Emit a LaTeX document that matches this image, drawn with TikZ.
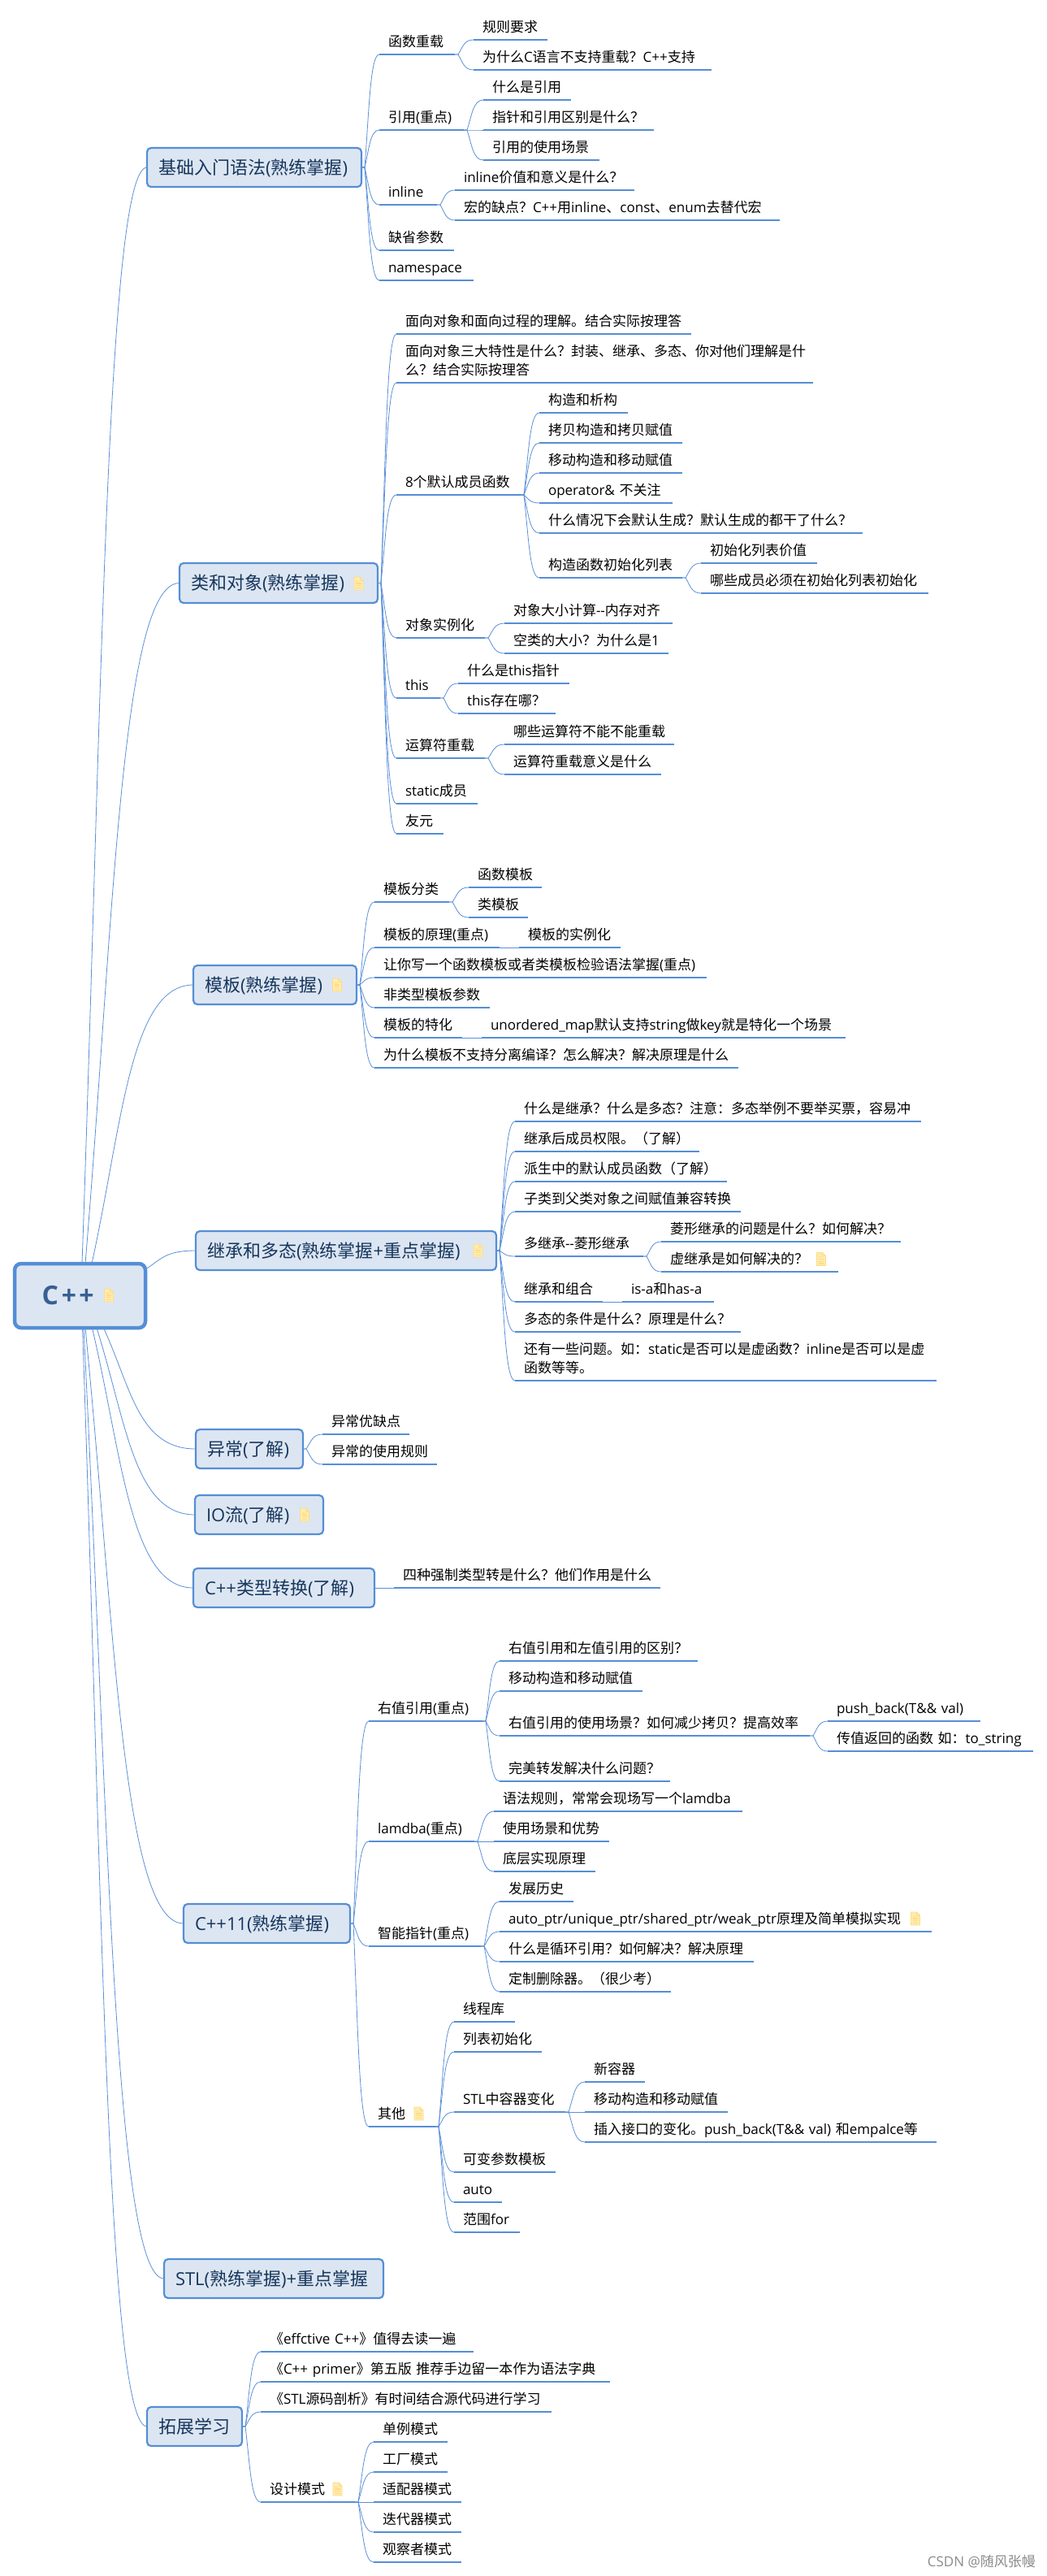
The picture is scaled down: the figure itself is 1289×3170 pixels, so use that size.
\documentclass[tikz,border=0pt]{standalone}
\usepackage{fontspec}
\usetikzlibrary{calc}
\setmainfont{Open Sans}
\newfontfamily\cjkfam{Noto Sans CJK SC}
% automatic switch between Latin and CJK fonts
\XeTeXinterchartokenstate=1
\newXeTeXintercharclass\cjkclass
\count255="3000 \loop\ifnum\count255<"3040 \XeTeXcharclass\count255=\cjkclass \advance\count255 by 1 \repeat
\count255="4E00 \loop\ifnum\count255<"A000 \XeTeXcharclass\count255=\cjkclass \advance\count255 by 1 \repeat
\count255="FF00 \loop\ifnum\count255<"FFF0 \XeTeXcharclass\count255=\cjkclass \advance\count255 by 1 \repeat
\XeTeXinterchartoks 0 \cjkclass={\cjkfam}
\XeTeXinterchartoks 4095 \cjkclass={\cjkfam}
\XeTeXinterchartoks \cjkclass 0={\rmfamily}
\XeTeXinterchartoks \cjkclass 4095={\rmfamily}
% full-width punctuation
\newcommand\fq{^^^^ff1f}
\newcommand\fc{^^^^ff1a}
\newcommand\fk{^^^^ff0c}
\newcommand\fl{^^^^ff08}
\newcommand\fr{^^^^ff09}
\definecolor{linec}{HTML}{558ED5}
\definecolor{thinc}{HTML}{5B90D9}
\definecolor{boxf}{HTML}{DCE6F2}
\definecolor{boxt}{HTML}{17365D}
\definecolor{roott}{HTML}{376092}
\definecolor{notef}{HTML}{FFEBB0}
\definecolor{noted}{HTML}{FFDC85}
\tikzset{
  leafs/.style={anchor=south west,inner xsep=0pt,inner ysep=5.5pt,outer sep=0pt,align=left,text=black,font=\fontsize{17}{23}\selectfont},
  uline/.style={draw=linec,line width=2.6pt},
  thinl/.style={draw=thinc,line width=0.8pt},
  bxs/.style={anchor=north west,inner xsep=14pt,inner ysep=0pt,outer sep=0pt,rounded corners=5pt,draw=linec,fill=boxf,line width=2.2pt,align=left,text=boxt,font=\fontsize{22}{26}\selectfont},
  rootbx/.style={anchor=north west,inner xsep=33.5pt,inner ysep=0pt,outer sep=0pt,rounded corners=8pt,draw=linec,fill=boxf,line width=4.5pt,align=left,text=roott,font=\fontsize{32}{36}\selectfont\bfseries},
}
\newcommand\stt{\rule[-4pt]{0pt}{14pt}}
\newcommand\lnn[1]{\mbox{\hspace*{11pt}\stt #1}}
\newcommand\leaf[5]{\node[leafs,text width={(#3-#2)*1pt}] (#1) at (#2,#4) {\lnn{#5}};\draw[uline] (#1.south west)--(#1.south east);}
\newcommand\leaftwo[6]{\node[leafs,text width={(#3-#2)*1pt}] (#1) at (#2,#4) {\lnn{#5}\\\lnn{#6}};\draw[uline] (#1.south west)--(#1.south east);}
\newcommand\bxn[6]{\node[bxs,minimum width={(#3-#2)*1pt},minimum height={(#5-#4)*1pt},text width={(#3-#2-28)*1pt}] (#1) at (#2,#4) {\rule[-3.6pt]{0pt}{24pt}#6};}
\newcommand\conn[2]{\draw[thinl] let \p1=(#1),\p2=(#2),\n1={\x2-\x1-4pt},\n2={\y2-\y1} in (\p1) -- (\x1+4pt,\y1) .. controls (\x1+4pt+.3*\n1,\y1+.5*\n2) and (\x1+4pt+.38*\n1,\y2) .. (\p2);}
\newcommand\connr[2]{\draw[thinl] let \p1=(#1),\p2=(#2),\n1={\x2-\x1},\n2={\y2-\y1} in (\p1) .. controls (\x1+.3*\n1,\y1+.5*\n2) and (\x1+.38*\n1,\y2) .. (\p2);}
\newcommand\kids[2]{\foreach \k in {#2}{\conn{#1.south east}{\k.south west}}}
\newcommand\bkids[2]{\foreach \k in {#2}{\conn{#1.east}{\k.south west}}}
\newcommand\noteicon[2]{\begin{scope}[shift={(#1,#2)}]
  \draw[fill=notef,draw=noted,line width=0.9pt] (-5.5,8)--(-5.5,-8)--(1.5,-8)--(5.5,-4)--(5.5,8)--cycle;
  \draw[draw=noted,line width=0.9pt] (1.5,-8)--(1.5,-4)--(5.5,-4);
  \draw[draw=noted,line width=1.2pt] (-3.2,0)--(3.2,0) (-3.2,2.8)--(3.2,2.8) (-3.2,5.4)--(3.2,5.4) (-3.2,-2.8)--(-0.5,-2.8);
\end{scope}}
\begin{document}
\begin{tikzpicture}[x=1pt,y=-1pt]
\fill[white] (0,0) rectangle (1289,3170);
\useasboundingbox (0,0) rectangle (1289,3170);
% root
\node[rootbx,minimum width=161pt,minimum height=79pt,text width=94pt] (root) at (18,1555) {C\hspace{4pt}+\hspace{3.2pt}+};
\noteicon{134}{1594}
\coordinate (rt1) at (101,1555);
\coordinate (rt2) at (105,1555);
\coordinate (rt3) at (113,1555);
\coordinate (rt4) at (179,1562);
\coordinate (rb1) at (127.5,1634);
\coordinate (rb2) at (119,1634);
\coordinate (rb3) at (113.5,1634);
\coordinate (rb4) at (105,1634);
\coordinate (rb5) at (103,1634);
\coordinate (rb6) at (101.5,1634);
% main boxes
\bxn{b1}{181}{445}{182}{230}{基础入门语法(熟练掌握)}
\bxn{b2}{221}{465}{693}{742}{类和对象(熟练掌握)}
\noteicon{441.5}{718}
\bxn{b3}{238}{439}{1188}{1236}{模板(熟练掌握)}
\noteicon{415}{1212}
\bxn{b4}{241}{611}{1515}{1563}{继承和多态(熟练掌握+重点掌握)}
\noteicon{588.5}{1539}
\bxn{b5}{241}{373}{1759}{1807}{异常(了解)}
\bxn{b6}{240}{398}{1840}{1888}{IO流(了解)}
\noteicon{375}{1864}
\bxn{b7}{238}{461}{1930}{1978}{C++类型转换(了解)}
\bxn{b8}{226}{431}{2343}{2391}{C++11(熟练掌握)}
\bxn{b9}{202}{472}{2780}{2828}{STL(熟练掌握)+重点掌握}
\bxn{b10}{181}{298}{2962}{3010}{拓展学习}
\connr{rt1}{b1.west}
\connr{rt2}{b2.west}
\connr{rt3}{b3.west}
\connr{rt4}{b4.west}
\connr{rb1}{b5.west}
\connr{rb2}{b6.west}
\connr{rb3}{b7.west}
\connr{rb4}{b8.west}
\connr{rb5}{b9.west}
\connr{rb6}{b10.west}
% branch 1
\leaf{a1}{467}{560}{67}{函数重载}
\leaf{a1a}{583}{674}{49}{规则要求}
\leaf{a1b}{583}{876}{86}{为什么C语言不支持重载\fq C++支持}
\leaf{a2}{467}{571}{160}{引用(重点)}
\leaf{a2a}{595}{703}{123}{什么是引用}
\leaf{a2b}{595}{805}{160}{指针和引用区别是什么\fq}
\leaf{a2c}{595}{738}{197}{引用的使用场景}
\leaf{a3}{467}{538}{252}{inline}
\leaf{a3a}{560}{781}{234}{inline价值和意义是什么\fq}
\leaf{a3b}{560}{960}{271}{宏的缺点\fq C++用inline、const、enum去替代宏}
\leaf{a4}{467}{559}{308}{缺省参数}
\leaf{a5}{467}{583}{345}{namespace}
\bkids{b1}{a1,a2,a3,a4,a5}
\kids{a1}{a1a,a1b}
\kids{a2}{a2a,a2b,a2c}
\kids{a3}{a3a,a3b}
% branch 2
\leaf{c1}{488}{851}{411}{面向对象和面向过程的理解。结合实际按理答}
\leaftwo{c2}{488}{1001}{471}{面向对象三大特性是什么\fq 封装、继承、多态、你对他们理解是什}{么\fq 结合实际按理答}
\leaf{c3}{488}{641}{609}{8个默认成员函数}
\leaf{c3a}{664}{773}{508}{构造和析构}
\leaf{c3b}{664}{840}{545}{拷贝构造和拷贝赋值}
\leaf{c3c}{664}{840}{582}{移动构造和移动赋值}
\leaf{c3d}{664}{828}{619}{operator\& 不关注}
\leaf{c3e}{664}{1062}{656}{什么情况下会默认生成\fq 默认生成的都干了什么\fq}
\leaf{c3f}{664}{840}{711}{构造函数初始化列表}
\leaf{c3g}{863}{1006}{693}{初始化列表价值}
\leaf{c3h}{863}{1143}{730}{哪些成员必须在初始化列表初始化}
\leaf{c4}{488}{597}{785}{对象实例化}
\leaf{c4a}{621}{828}{767}{对象大小计算-{}-内存对齐}
\leaf{c4b}{621}{823}{804}{空类的大小\fq 为什么是1}
\leaf{c5}{488}{542}{859}{this}
\leaf{c5a}{564}{701}{841}{什么是this指针}
\leaf{c5b}{564}{684}{878}{this存在哪\fq}
\leaf{c6}{488}{597}{933}{运算符重载}
\leaf{c6a}{621}{830}{916}{哪些运算符不能不能重载}
\leaf{c6b}{621}{814}{953}{运算符重载意义是什么}
\leaf{c7}{488}{588}{989}{static成员}
\leaf{c8}{488}{546}{1026}{友元}
\bkids{b2}{c1,c2,c3,c4,c5,c6,c7,c8}
\kids{c3}{c3a,c3b,c3c,c3d,c3e,c3f}
\kids{c3f}{c3g,c3h}
\kids{c4}{c4a,c4b}
\kids{c5}{c5a,c5b}
\kids{c6}{c6a,c6b}
% branch 3
\leaf{d1}{461}{553}{1110}{模板分类}
\leaf{d1a}{577}{667}{1092}{函数模板}
\leaf{d1b}{577}{650}{1129}{类模板}
\leaf{d2}{461}{615}{1166}{模板的原理(重点)}
\leaf{d2a}{639}{764}{1166}{模板的实例化}
\leaf{d3}{461}{870}{1203}{让你写一个函数模板或者类模板检验语法掌握(重点)}
\leaf{d4}{461}{603}{1240}{非类型模板参数}
\leaf{d5}{461}{569}{1277}{模板的特化}
\leaf{d5a}{593}{1041}{1277}{unordered\_map默认支持string做key就是特化一个场景}
\leaf{d6}{461}{909}{1314}{为什么模板不支持分离编译\fq 怎么解决\fq 解决原理是什么}
\bkids{b3}{d1,d2,d3,d4,d5,d6}
\kids{d1}{d1a,d1b}
\kids{d2}{d2a}
\kids{d5}{d5a}
% branch 4
\leaf{e1}{634}{1134}{1380}{什么是继承\fq 什么是多态\fq 注意\fc 多态举例不要举买票\fk 容易冲}
\leaf{e2}{634}{861}{1417}{继承后成员权限。\fl 了解\fr}
\leaf{e3}{634}{895}{1454}{派生中的默认成员函数\fl 了解\fr}
\leaf{e4}{634}{912}{1491}{子类到父类对象之间赋值兼容转换}
\leaf{e5}{634}{792}{1546}{多继承-{}-菱形继承}
\leaf{e5a}{814}{1109}{1528}{菱形继承的问题是什么\fq 如何解决\fq}
\leaf{e5b}{814}{1032}{1565}{虚继承是如何解决的\fq}
\noteicon{1011}{1549.5}
\leaf{e6}{634}{742}{1602}{继承和组合}
\leaf{e6a}{766}{879}{1602}{is-a和has-a}
\leaf{e7}{634}{912}{1639}{多态的条件是什么\fq 原理是什么\fq}
\leaftwo{e8}{634}{1153}{1699}{还有一些问题。如\fc static是否可以是虚函数\fq inline是否可以是虚}{函数等等。}
\bkids{b4}{e1,e2,e3,e4,e5,e6,e7,e8}
\kids{e5}{e5a,e5b}
\kids{e6}{e6a}
% branch 5-7
\leaf{f1}{397}{504}{1765}{异常优缺点}
\leaf{f2}{397}{538}{1802}{异常的使用规则}
\bkids{b5}{f1,f2}
\leaf{g1}{485}{813}{1954}{四种强制类型转是什么\fq 他们作用是什么}
\bkids{b7}{g1}
% branch 8
\leaf{h1}{454}{594}{2118}{右值引用(重点)}
\leaf{h1a}{615}{859}{2044}{右值引用和左值引用的区别\fq}
\leaf{h1b}{615}{791}{2081}{移动构造和移动赋值}
\leaf{h1c}{615}{997}{2136}{右值引用的使用场景\fq 如何减少拷贝\fq 提高效率}
\leaf{h1d}{1019}{1207}{2118}{push\_back(T\&\& val)}
\leaf{h1e}{1019}{1272}{2155}{传值返回的函数 如\fc to\_string}
\leaf{h1f}{615}{825}{2192}{完美转发解决什么问题\fq}
\leaf{h2}{454}{584}{2266}{lamdba(重点)}
\leaf{h2a}{608}{914}{2229}{语法规则\fk 常常会现场写一个lamdba}
\leaf{h2b}{608}{750}{2266}{使用场景和优势}
\leaf{h2c}{608}{733}{2303}{底层实现原理}
\leaf{h3}{454}{592}{2395}{智能指针(重点)}
\leaf{h3a}{615}{706}{2340}{发展历史}
\leaf{h3b}{615}{1147}{2377}{auto\_ptr/unique\_ptr/shared\_ptr/weak\_ptr原理及简单模拟实现}
\noteicon{1127}{2361}
\leaf{h3c}{615}{928}{2414}{什么是循环引用\fq 如何解决\fq 解决原理}
\leaf{h3d}{615}{826}{2451}{定制删除器。\fl 很少考\fr}
\leaf{h4}{454}{536}{2617}{其他}
\noteicon{515.5}{2601}
\leaf{h4a}{559}{634}{2488}{线程库}
\leaf{h4b}{559}{667}{2525}{列表初始化}
\leaf{h4c}{559}{696}{2599}{STL中容器变化}
\leaf{h4c1}{720}{794}{2562}{新容器}
\leaf{h4c2}{720}{896}{2599}{移动构造和移动赋值}
\leaf{h4c3}{720}{1153}{2636}{插入接口的变化。push\_back(T\&\& val) 和empalce等}
\leaf{h4d}{559}{684}{2673}{可变参数模板}
\leaf{h4e}{559}{618}{2710}{auto}
\leaf{h4f}{559}{640}{2747}{范围for}
\bkids{b8}{h1,h2,h3,h4}
\kids{h1}{h1a,h1b,h1c,h1f}
\kids{h1c}{h1d,h1e}
\kids{h2}{h2a,h2b,h2c}
\kids{h3}{h3a,h3b,h3c,h3d}
\kids{h4}{h4a,h4b,h4c,h4d,h4e,h4f}
\kids{h4c}{h4c1,h4c2,h4c3}
% branch 10
\leaf{k1}{321}{583}{2894}{《effctive C++》值得去读一遍}
\leaf{k2}{321}{751}{2931}{《C++ primer》第五版 推荐手边留一本作为语法字典}
\leaf{k3}{321}{679}{2968}{《STL源码剖析》有时间结合源代码进行学习}
\leaf{k4}{321}{437}{3079}{设计模式}
\noteicon{415.5}{3063}
\leaf{k4a}{460}{551}{3005}{单例模式}
\leaf{k4b}{460}{551}{3042}{工厂模式}
\leaf{k4c}{460}{568}{3079}{适配器模式}
\leaf{k4d}{460}{568}{3116}{迭代器模式}
\leaf{k4e}{460}{568}{3153}{观察者模式}
\bkids{b10}{k1,k2,k3,k4}
\kids{k4}{k4a,k4b,k4c,k4d,k4e}
% watermark
\node[anchor=east,inner sep=0pt,text=black!45,font=\fontsize{17}{20}\selectfont] (wm) at (1275,3152) {CSDN @随风张幔};
\end{tikzpicture}
\end{document}
